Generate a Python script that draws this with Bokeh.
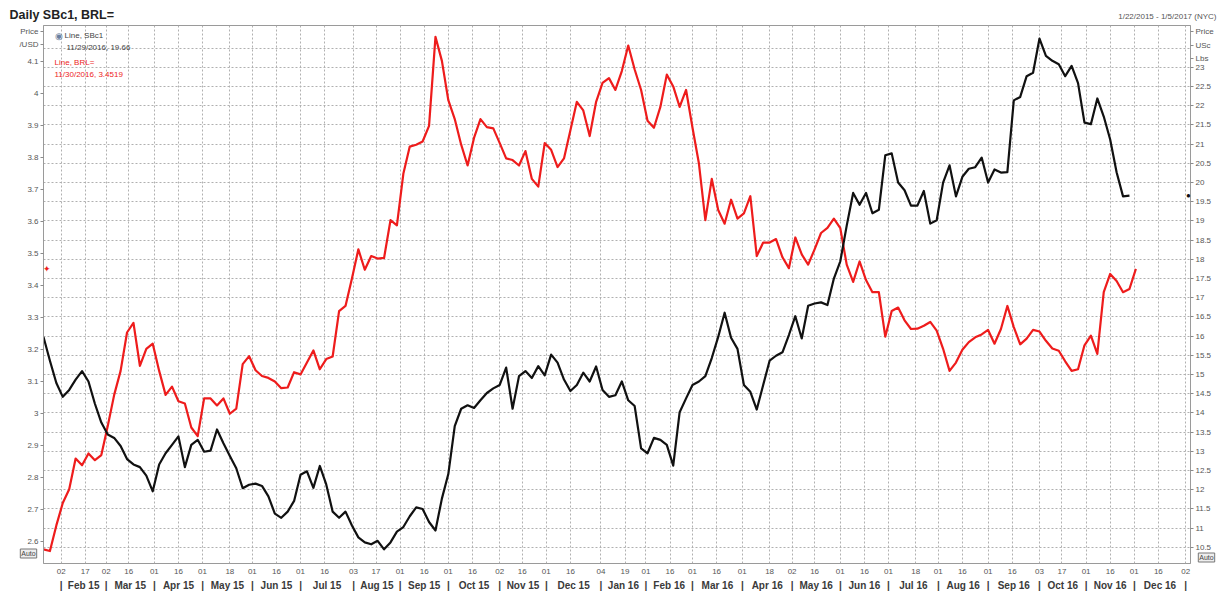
import numpy as np
import pandas as pd
from bokeh.plotting import figure
from bokeh.models import (Range1d, LinearAxis, FixedTicker, NumeralTickFormatter,
                          Grid, Label, ColumnDataSource)
from bokeh.embed import file_html
from bokeh.resources import INLINE

FONT = "Liberation Sans"

# ---------------- data ----------------
start_date = "2015-01-22"
end_date = "2017-01-05"
sample_step = "4D"   # series every 4 calendar days

# Raw sugar no.11 (SBc1), US cents / lb  (right axis)
sugar_usc = [
    15.98, 15.36, 14.78, 14.42, 14.60, 14.87, 15.09, 14.82, 14.24, 13.75,
    13.44, 13.35, 13.14, 12.80, 12.66, 12.59, 12.37, 11.96, 12.66, 12.95,
    13.17, 13.39, 12.59, 13.17, 13.30, 12.99, 13.02, 13.57, 13.21, 12.88,
    12.56, 12.04, 12.13, 12.16, 12.10, 11.83, 11.38, 11.27, 11.43, 11.71,
    12.39, 12.48, 12.05, 12.62, 12.14, 11.43, 11.27, 11.43, 11.07, 10.76,
    10.63, 10.58, 10.67, 10.45, 10.63, 10.91, 11.03, 11.31, 11.54, 11.50,
    11.16, 10.94, 11.77, 12.41, 13.66, 14.11, 14.20, 14.13, 14.33, 14.52,
    14.64, 14.73, 15.18, 14.11, 14.96, 15.09, 14.91, 15.22, 14.98, 15.52,
    15.31, 14.87, 14.57, 14.73, 15.05, 14.82, 15.21, 14.60, 14.42, 14.46,
    14.82, 14.33, 14.18, 13.08, 12.95, 13.35, 13.30, 13.17, 12.63, 14.02,
    14.38, 14.73, 14.82, 14.96, 15.43, 15.98, 16.61, 15.96, 15.67, 14.73,
    14.55, 14.09, 14.73, 15.36, 15.49, 15.58, 16.03, 16.52, 15.94, 16.79,
    16.85, 16.88, 16.81, 17.50, 17.95, 18.88, 19.73, 19.42, 19.73, 19.20,
    19.29, 20.71, 20.76, 20.00, 19.80, 19.40, 19.40, 19.78, 18.93, 19.02,
    20.00, 20.45, 19.64, 20.15, 20.36, 20.40, 20.65, 20.00, 20.34, 20.26,
    20.27, 22.14, 22.23, 22.77, 22.86, 23.75, 23.30, 23.17, 23.08, 22.77,
    23.04, 22.59, 21.56, 21.52, 22.19, 21.72, 21.12, 20.27, 19.64, 19.66,
]

# Brazilian real per US dollar (BRL=)  (left axis)
brl_per_usd = [
    2.575, 2.570, 2.650, 2.720, 2.763, 2.859, 2.838, 2.875, 2.854, 2.870,
    2.961, 3.058, 3.133, 3.253, 3.283, 3.149, 3.202, 3.218, 3.133, 3.058,
    3.084, 3.038, 3.031, 2.956, 2.929, 3.047, 3.047, 3.025, 3.047, 2.999,
    3.015, 3.154, 3.179, 3.135, 3.117, 3.111, 3.100, 3.079, 3.081, 3.129,
    3.122, 3.159, 3.197, 3.138, 3.170, 3.178, 3.320, 3.336, 3.422, 3.513,
    3.449, 3.492, 3.484, 3.486, 3.604, 3.588, 3.749, 3.834, 3.840, 3.850,
    3.899, 4.177, 4.102, 3.979, 3.920, 3.840, 3.775, 3.861, 3.920, 3.895,
    3.891, 3.845, 3.797, 3.792, 3.775, 3.820, 3.733, 3.709, 3.845, 3.824,
    3.770, 3.797, 3.885, 3.974, 3.947, 3.867, 3.974, 4.033, 4.048, 4.011,
    4.070, 4.150, 4.075, 4.011, 3.915, 3.893, 3.958, 4.059, 4.022, 3.958,
    4.011, 3.893, 3.781, 3.604, 3.733, 3.636, 3.593, 3.668, 3.609, 3.625,
    3.679, 3.492, 3.534, 3.534, 3.545, 3.488, 3.454, 3.550, 3.497, 3.465,
    3.513, 3.564, 3.580, 3.609, 3.579, 3.465, 3.411, 3.475, 3.417, 3.379,
    3.379, 3.240, 3.320, 3.331, 3.291, 3.264, 3.265, 3.274, 3.286, 3.259,
    3.202, 3.133, 3.159, 3.199, 3.223, 3.238, 3.247, 3.261, 3.218, 3.264,
    3.336, 3.270, 3.216, 3.234, 3.261, 3.256, 3.227, 3.203, 3.196, 3.163,
    3.133, 3.138, 3.213, 3.243, 3.186, 3.379, 3.436, 3.414, 3.379, 3.389,
    3.452,
]

sugar_last_date, sugar_last_value = "11/29/2016", "19.66"
brl_last_date, brl_last_value = "11/30/2016", "3.4519"

# x-axis tick dates (day labels) and month names
tick_dates = [
    "2015-02-02", "2015-02-17", "2015-03-02", "2015-03-16", "2015-04-01", "2015-04-16",
    "2015-05-01", "2015-05-18", "2015-06-01", "2015-06-16", "2015-07-01", "2015-07-16",
    "2015-08-03", "2015-08-17", "2015-09-01", "2015-09-16", "2015-10-01", "2015-10-16",
    "2015-11-02", "2015-11-16", "2015-12-01", "2015-12-16", "2016-01-04", "2016-01-19",
    "2016-02-01", "2016-02-16", "2016-03-01", "2016-03-16", "2016-04-01", "2016-04-18",
    "2016-05-02", "2016-05-16", "2016-06-01", "2016-06-16", "2016-07-01", "2016-07-18",
    "2016-08-01", "2016-08-16", "2016-09-01", "2016-09-16", "2016-10-03", "2016-10-17",
    "2016-11-01", "2016-11-16", "2016-12-01", "2016-12-16", "2017-01-02",
]
month_names = [
    "Feb 15", "Mar 15", "Apr 15", "May 15", "Jun 15", "Jul 15", "Aug 15", "Sep 15",
    "Oct 15", "Nov 15", "Dec 15", "Jan 16", "Feb 16", "Mar 16", "Apr 16", "May 16",
    "Jun 16", "Jul 16", "Aug 16", "Sep 16", "Oct 16", "Nov 16", "Dec 16",
]

left_ticks = [2.6, 2.7, 2.8, 2.9, 3.0, 3.1, 3.2, 3.3, 3.4, 3.5, 3.6, 3.7, 3.8, 3.9, 4.0, 4.1]
right_ticks = [10.5, 11, 11.5, 12, 12.5, 13, 13.5, 14, 14.5, 15, 15.5, 16, 16.5, 17,
               17.5, 18, 18.5, 19, 19.5, 20, 20.5, 21, 21.5, 22, 22.5, 23]
grid_ticks = right_ticks + [23.5]

# axis captions written in the tick-label column, above the top tick
left_caption = {4.194: "Price", 4.153: "/USD"}
right_caption = {23.932: "Price", 23.568: "USc", 23.229: "Lbs"}

# ---------------- build ----------------
W, H = 1220, 607
FL, FR, FT, FB = 42, 1190, 25, 563   # plot frame edges in page pixels


def ms(d):
    return float(pd.Timestamp(d).value // 10**6)


sugar_src = ColumnDataSource(dict(
    date=pd.date_range(start_date, periods=len(sugar_usc), freq=sample_step),
    v=sugar_usc))
brl_src = ColumnDataSource(dict(
    date=pd.date_range(start_date, periods=len(brl_per_usd), freq=sample_step),
    v=brl_per_usd))

p = figure(width=W, height=H, output_backend="svg", toolbar_location=None,
           x_axis_type=None, y_axis_type=None,
           x_range=Range1d(pd.Timestamp(start_date), pd.Timestamp(end_date)),
           y_range=Range1d(2.531, 4.2125),
           min_border_left=FL, min_border_right=W - FR, min_border_top=FT,
           min_border_bottom=H - FB,
           background_fill_color="white", border_fill_color="white")
p.extra_y_ranges = {"right": Range1d(10.08, 24.09)}
p.outline_line_color = "#9a9a9a"
p.outline_line_width = 1

day_ticks = [ms(d) for d in tick_dates]
month_start_ticks = [ms(d) for d in tick_dates if int(d[-2:]) <= 4]
month_mid_ticks = [(a + b) / 2 for a, b in zip(month_start_ticks[:-1], month_start_ticks[1:])]

# grids
p.add_layout(Grid(dimension=0, ticker=FixedTicker(ticks=day_ticks),
                  grid_line_color="#b0b0b0", grid_line_dash="2 2", grid_line_width=1), "center")
p.add_layout(Grid(dimension=1, y_range_name="right", ticker=FixedTicker(ticks=grid_ticks),
                  grid_line_color="#b0b0b0", grid_line_dash="2 2", grid_line_width=1), "center")

# lines
p.line("date", "v", source=brl_src, line_color="#ee1c1c", line_width=2.2, line_join="round")
p.line("date", "v", source=sugar_src, y_range_name="right", line_color="#111111",
       line_width=2.2, line_join="round")


# axes
def style_axis(ax, size="8px", color="#555555", bold=False):
    ax.major_label_text_font = FONT
    ax.major_label_text_font_size = size
    ax.major_label_text_color = color
    ax.major_label_text_font_style = "bold" if bold else "normal"
    ax.minor_tick_line_color = None


left = LinearAxis(ticker=FixedTicker(ticks=left_ticks + list(left_caption)),
                  formatter=NumeralTickFormatter(format="0.[0]"),
                  major_label_overrides=left_caption)
style_axis(left)
left.axis_line_color = "#9a9a9a"
left.major_tick_line_color = "#8a8a8a"
left.major_tick_out = 3
left.major_tick_in = 0
left.major_label_standoff = 2
p.add_layout(left, "left")

right = LinearAxis(y_range_name="right",
                   ticker=FixedTicker(ticks=right_ticks + list(right_caption)),
                   formatter=NumeralTickFormatter(format="0.[0]"),
                   major_label_overrides=right_caption)
style_axis(right)
right.axis_line_color = "#9a9a9a"
right.major_tick_line_color = "#8a8a8a"
right.major_tick_out = 3
right.major_tick_in = 0
right.major_label_standoff = 2
p.add_layout(right, "right")

day_axis = LinearAxis(ticker=FixedTicker(ticks=day_ticks),
                      major_label_overrides={t: d[-2:] for t, d in zip(day_ticks, tick_dates)})
style_axis(day_axis, size="8px", color="#555555")
day_axis.axis_line_color = None
day_axis.major_tick_line_color = None
day_axis.major_tick_out = 0
day_axis.major_label_standoff = 5
p.add_layout(day_axis, "below")

month_ticks = month_start_ticks + month_mid_ticks
month_over = {t: "|" for t in month_start_ticks}
month_over.update({t: n for t, n in zip(month_mid_ticks, month_names)})
month_axis = LinearAxis(ticker=FixedTicker(ticks=month_ticks), major_label_overrides=month_over)
style_axis(month_axis, size="10px", color="#3a3a3a", bold=True)
month_axis.axis_line_color = None
month_axis.major_tick_line_color = None
month_axis.major_tick_out = 0
month_axis.major_label_standoff = 3
p.add_layout(month_axis, "below")


# ---------------- annotations ----------------
def lab(x, y, text, size="8px", color="#555555", align="left", bold=False, **kw):
    return Label(x=x, y=y, x_units="screen", y_units="screen", text=text, text_font=FONT,
                 text_font_size=size, text_color=color, text_align=align,
                 text_baseline="middle", text_font_style="bold" if bold else "normal", **kw)


# header row (side panels above the frame; x from frame left, y upward from panel bottom)
p.add_layout(lab(1215 - FL, FT - 16, "1/22/2015 - 1/5/2017 (NYC)", size="8px",
                 align="right"), "above")
p.add_layout(lab(8 - FL, 16 - 14, "Daily SBc1, BRL=", size="12.5px", color="#222222",
                 bold=True), "above")

# "Auto" buttons
p.add_layout(lab(28, FB - 553, "Auto", size="7px", color="#444444", align="center",
                 border_line_color="#777777", background_fill_color="#eeeeee", padding=1),
             "left")
p.add_layout(lab(1205 - FL, 602 - 557, "Auto", size="7px", color="#444444", align="center",
                 border_line_color="#777777", background_fill_color="#eeeeee", padding=1),
             "below")


# legend texts and last-value markers inside the frame
def inside(img_x, img_y, text, size="8px", color="#444444", align="left"):
    p.add_layout(lab(img_x - FL, FB - img_y, text, size=size, color=color, align=align))


inside(57, 35, "\u25c9", size="9px", color="#6a7fa0", align="center")
inside(63, 35, "Line, SBc1")
inside(65, 47, f"{sugar_last_date}, {sugar_last_value}")
inside(53, 62, "Line, BRL=", color="#ee1c1c")
inside(53, 74, f"{brl_last_date}, {brl_last_value}", color="#ee1c1c")

p.add_layout(Label(x=3, y=float(brl_last_value), x_units="screen", y_units="data",
                   text="\u2726", text_font=FONT, text_font_size="9px", text_color="#ee1c1c",
                   text_align="center", text_baseline="middle"))
p.add_layout(Label(x=FR - FL - 3, y=float(sugar_last_value), x_units="screen", y_units="data",
                   y_range_name="right", text="\u25cf", text_font=FONT, text_font_size="8px",
                   text_color="#111111", text_align="center", text_baseline="middle"))

open("out.html", "w").write(file_html(p, INLINE))
